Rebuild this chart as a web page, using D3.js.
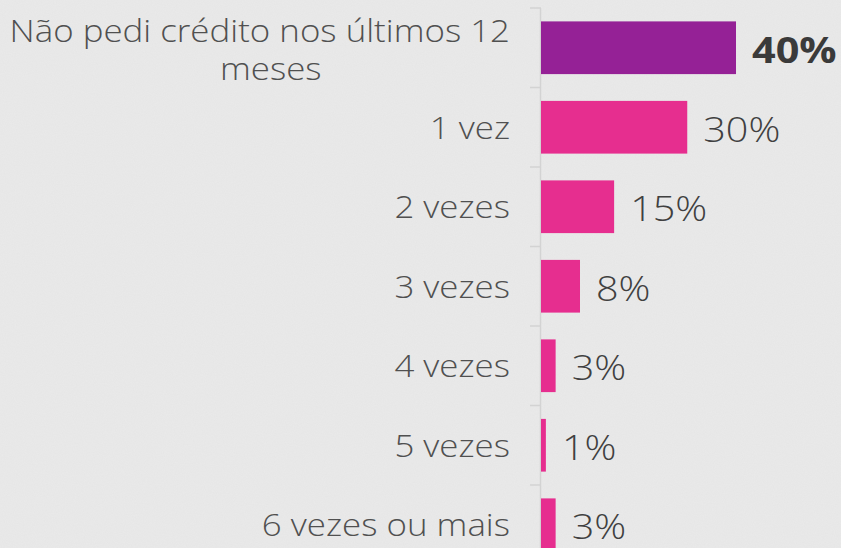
<!DOCTYPE html>
<html>
<head>
<meta charset="utf-8">
<script src="https://cdn.jsdelivr.net/npm/d3@7"></script>
<style>
  html, body { margin: 0; padding: 0; background: #eaeaea; }
  svg { display: block; }
</style>
</head>
<body>
<svg id="chart" width="841" height="548"></svg>
<script>
// Quantas vezes pediu crédito nos últimos 12 meses
const categories = [
  "Não pedi crédito nos últimos 12 meses",
  "1 vez",
  "2 vezes",
  "3 vezes",
  "4 vezes",
  "5 vezes",
  "6 vezes ou mais"
];
const values = [40, 30, 15, 8, 3, 1, 3];
const valueLabels = ["40%", "30%", "15%", "8%", "3%", "1%", "3%"];

const W = 841, H = 548;
const svg = d3.select("#chart");

// paper-like background with a faint grain
const defs = svg.append("defs");
const f = defs.append("filter").attr("id", "grain").attr("x", 0).attr("y", 0).attr("width", "100%").attr("height", "100%");
f.append("feTurbulence").attr("type", "fractalNoise").attr("baseFrequency", 0.9).attr("numOctaves", 2).attr("seed", 3).attr("result", "n");
f.append("feColorMatrix").attr("in", "n").attr("type", "matrix")
  .attr("values", "0 0 0 0 0.5  0 0 0 0 0.5  0 0 0 0 0.5  0 0 0 0.10 0");
svg.append("rect").attr("width", W).attr("height", H).attr("fill", "#eaeaea");
svg.append("rect").attr("width", W).attr("height", H).attr("filter", "url(#grain)");

const x0 = 541;
const x = d3.scaleLinear().domain([0, 40]).range([x0, 736]);
const y = d3.scaleBand().domain(categories).range([8, 8 + 79.5 * categories.length])
  .paddingInner(0.337).paddingOuter(0.337 / 2);

const step = y.step();
const inset = (step - y.bandwidth()) / 2;

// category axis line with ticks between bands
const axisG = svg.append("g");
axisG.append("line")
  .attr("x1", x0 - 0.5).attr("x2", x0 - 0.5)
  .attr("y1", y.range()[0]).attr("y2", y.range()[1])
  .attr("stroke", "#d3d3d3").attr("stroke-width", 1.5);
const boundaries = categories.map(c => y(c) - inset).concat([y(categories[categories.length - 1]) + y.bandwidth() + inset]);
axisG.selectAll("line.tick").data(boundaries).join("line")
  .attr("class", "tick")
  .attr("x1", x0 - 11).attr("x2", x0)
  .attr("y1", d => d).attr("y2", d => d)
  .attr("stroke", "#d3d3d3").attr("stroke-width", 1.5);

// bars
svg.selectAll("rect.bar").data(categories).join("rect")
  .attr("class", "bar")
  .attr("x", x0)
  .attr("y", d => y(d))
  .attr("width", (d, i) => x(values[i]) - x0)
  .attr("height", y.bandwidth())
  .attr("fill", (d, i) => i === 0 ? "#952196" : "#e62e8f");

// text is widened horizontally to give a broad geometric look
const font = "'Open Sans', sans-serif";
const wide = 1.125;
function wideText(px, py, anchor, str, size, weight, fill, sx) {
  const g = svg.append("g").attr("transform", `translate(${px},${py}) scale(${sx},1)`);
  return g.append("text")
    .attr("x", 0).attr("y", 0)
    .attr("text-anchor", anchor)
    .attr("dominant-baseline", "central")
    .attr("font-family", font)
    .attr("font-size", size)
    .attr("font-weight", weight)
    .attr("fill", fill)
    .text(str);
}

// category labels
const labelX = 510;
categories.forEach((c, i) => {
  const cy = y(c) + y.bandwidth() / 2;
  if (i === 0) {
    const t1 = wideText(labelX, cy - 17.5, "end", "Não pedi crédito nos últimos 12", 31, 300, "#505050", wide);
    const w = t1.node().getComputedTextLength() * wide;
    wideText(labelX - w / 2 + 11, cy + 21, "middle", "meses", 31, 300, "#505050", wide);
  } else {
    wideText(labelX, cy, "end", c, 31, 300, "#505050", wide);
  }
});

// value labels
categories.forEach((c, i) => {
  const cy = y(c) + y.bandwidth() / 2 + 1;
  if (i === 0) {
    wideText(x(values[i]) + 16, cy, "start", valueLabels[i], 36, 700, "#3a3a3a", 1.15);
  } else {
    wideText(x(values[i]) + 16, cy, "start", valueLabels[i], 35, 300, "#404040", 1.13);
  }
});
</script>
</body>
</html>
